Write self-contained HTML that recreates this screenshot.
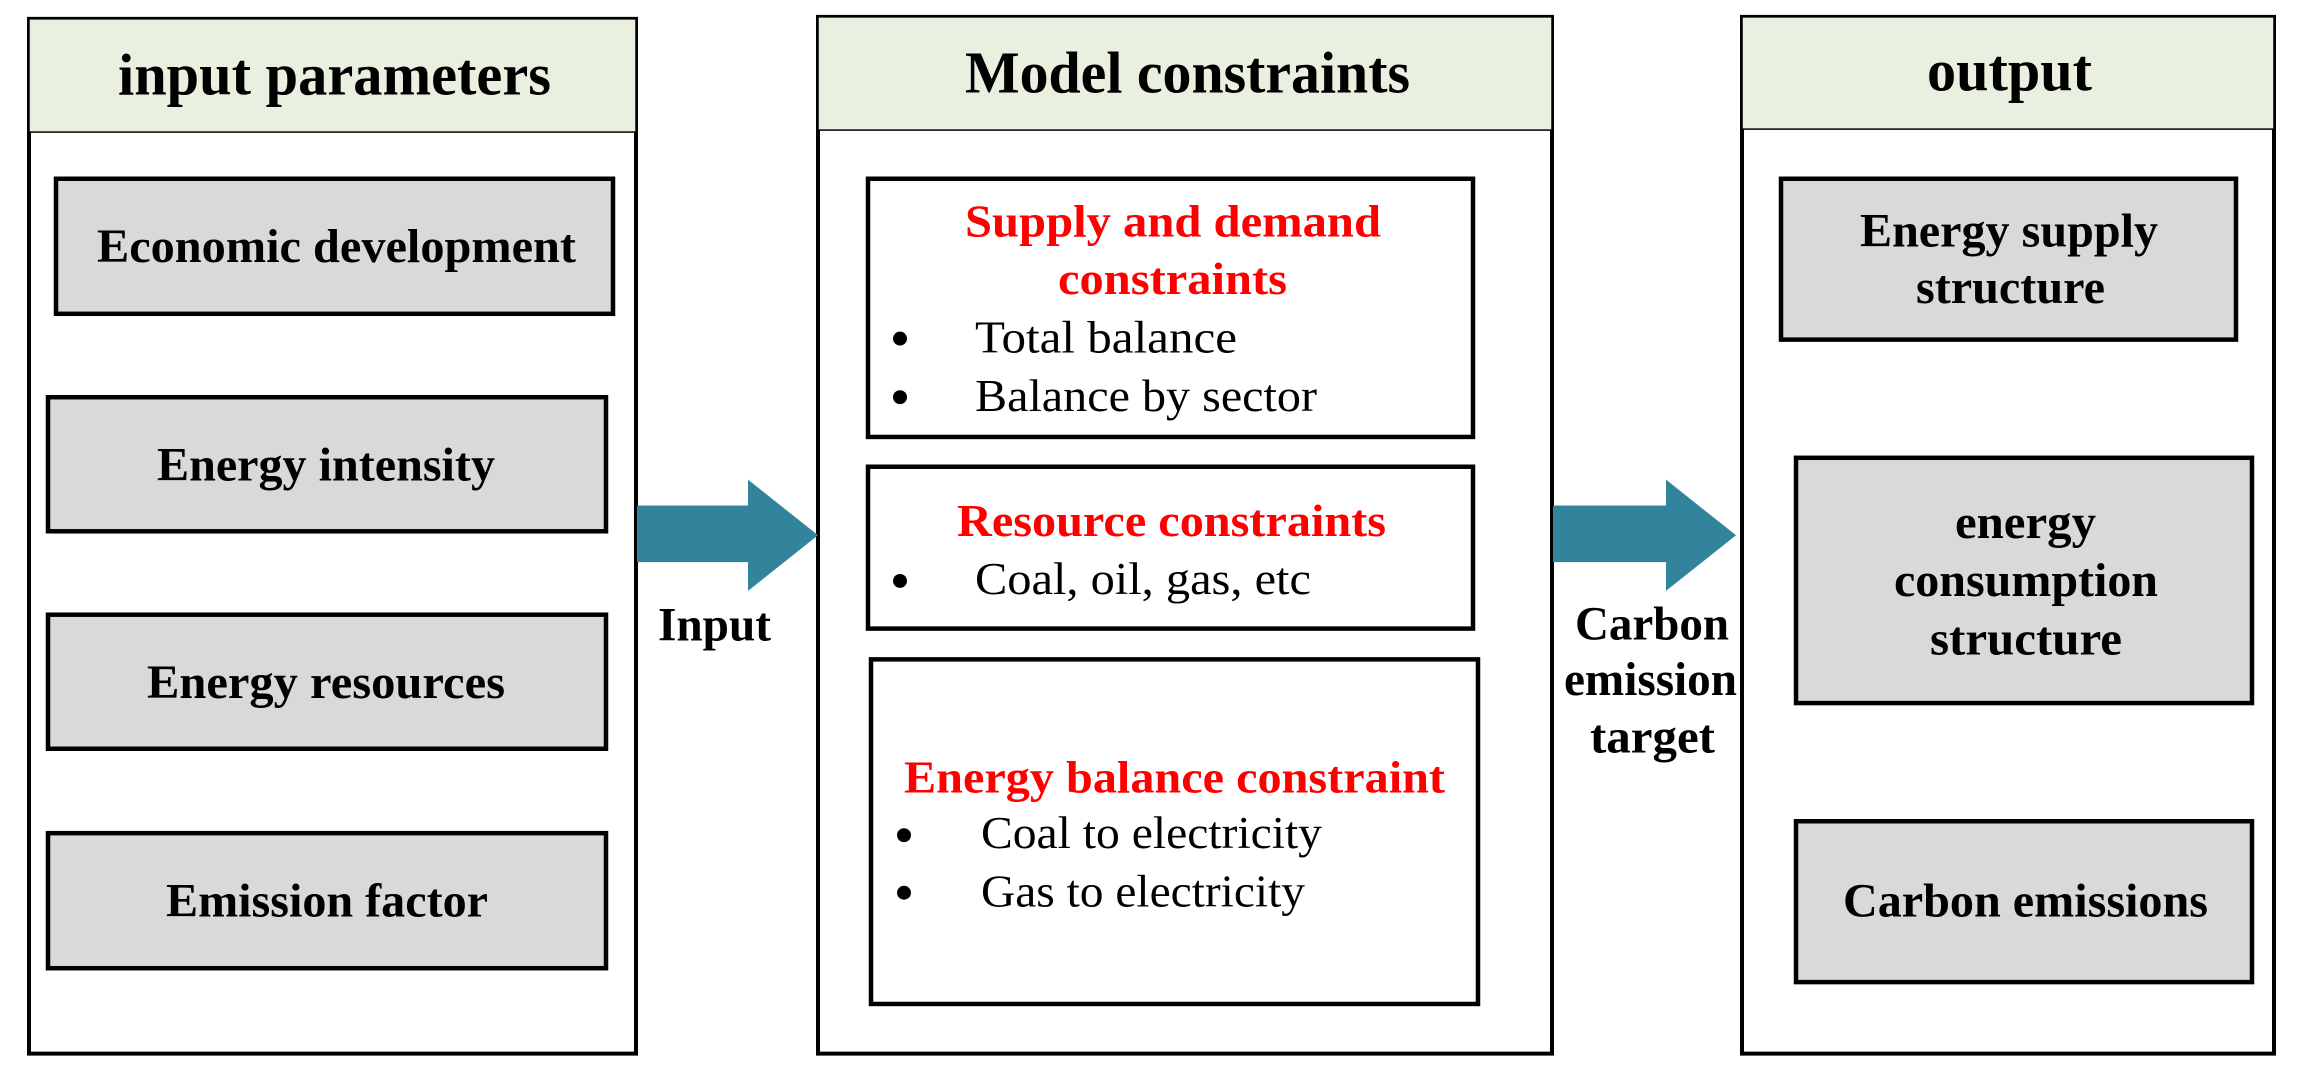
<!DOCTYPE html>
<html><head><meta charset="utf-8"><style>html,body{margin:0;padding:0;background:#fff;}svg{display:block;}</style></head>
<body>
<svg width="2303" height="1071" viewBox="0 0 2303 1078.5" preserveAspectRatio="none" xmlns="http://www.w3.org/2000/svg" font-family="Liberation Serif, serif">
<!-- panels -->
<g fill="#fff" stroke="#000" stroke-width="4">
<rect x="29" y="19" width="607" height="1042"/>
<rect x="818" y="17" width="734" height="1044"/>
<rect x="1742" y="17" width="532" height="1044"/>
</g>
<g fill="#EAF0E0" stroke="#000" stroke-width="1.5">
<rect x="29" y="19" width="607" height="114"/>
<rect x="818" y="17" width="734" height="114"/>
<rect x="1742" y="17" width="532" height="113"/>
</g>
<!-- gray boxes -->
<g fill="#D9D9D9" stroke="#000" stroke-width="4.5">
<rect x="56" y="180" width="557" height="136"/>
<rect x="48" y="400" width="558" height="135"/>
<rect x="48" y="619" width="558" height="135"/>
<rect x="48" y="839" width="558" height="136"/>
<rect x="1781" y="180" width="455" height="162"/>
<rect x="1796" y="461" width="456" height="247"/>
<rect x="1796" y="827" width="456" height="162"/>
</g>
<g fill="#fff" stroke="#000" stroke-width="4.5">
<rect x="868" y="180" width="605" height="260"/>
<rect x="868" y="470" width="605" height="163"/>
<rect x="871" y="664" width="607" height="347"/>
</g>
<!-- arrows -->
<g fill="#31849B">
<polygon points="637,509 748,509 748,483 818,539 748,595 748,566 637,566"/>
<polygon points="1553,509 1666,509 1666,483 1736,539 1666,595 1666,566 1553,566"/>
</g>
<!-- titles -->
<g font-weight="bold" font-size="60" fill="#000" lengthAdjust="spacingAndGlyphs">
<text x="118" y="95" textLength="433" lengthAdjust="spacingAndGlyphs">input parameters</text>
<text x="965" y="93" textLength="445" lengthAdjust="spacingAndGlyphs">Model constraints</text>
<text x="1927" y="91" textLength="165" lengthAdjust="spacingAndGlyphs">output</text>
</g>
<g font-weight="bold" font-size="48" fill="#000">
<text x="97" y="264" textLength="479" lengthAdjust="spacingAndGlyphs">Economic development</text>
<text x="157" y="484" textLength="338" lengthAdjust="spacingAndGlyphs">Energy intensity</text>
<text x="147" y="703" textLength="358" lengthAdjust="spacingAndGlyphs">Energy resources</text>
<text x="166" y="923" textLength="322" lengthAdjust="spacingAndGlyphs">Emission factor</text>
<text x="658" y="645" textLength="113" lengthAdjust="spacingAndGlyphs">Input</text>
<text x="1575" y="644" textLength="154" lengthAdjust="spacingAndGlyphs">Carbon</text>
<text x="1564" y="700" textLength="173" lengthAdjust="spacingAndGlyphs">emission</text>
<text x="1590" y="758" textLength="125" lengthAdjust="spacingAndGlyphs">target</text>
<text x="1860" y="248" textLength="298" lengthAdjust="spacingAndGlyphs">Energy supply</text>
<text x="1916" y="305" textLength="189" lengthAdjust="spacingAndGlyphs">structure</text>
<text x="1955" y="542" textLength="141" lengthAdjust="spacingAndGlyphs">energy</text>
<text x="1894" y="600" textLength="264" lengthAdjust="spacingAndGlyphs">consumption</text>
<text x="1930" y="659" textLength="192" lengthAdjust="spacingAndGlyphs">structure</text>
<text x="1843" y="923" textLength="365" lengthAdjust="spacingAndGlyphs">Carbon emissions</text>
</g>
<g font-weight="bold" font-size="46" fill="#FF0000">
<text x="965" y="238" textLength="416" lengthAdjust="spacingAndGlyphs">Supply and demand</text>
<text x="1058" y="296" textLength="229" lengthAdjust="spacingAndGlyphs">constraints</text>
<text x="957" y="540" textLength="429" lengthAdjust="spacingAndGlyphs">Resource constraints</text>
<text x="904" y="798" textLength="541" lengthAdjust="spacingAndGlyphs">Energy balance constraint</text>
</g>
<g font-size="46" fill="#000">
<text x="975" y="355" textLength="262" lengthAdjust="spacingAndGlyphs">Total balance</text>
<text x="975" y="414" textLength="342" lengthAdjust="spacingAndGlyphs">Balance by sector</text>
<text x="975" y="598" textLength="336" lengthAdjust="spacingAndGlyphs">Coal, oil, gas, etc</text>
<text x="981" y="854" textLength="341" lengthAdjust="spacingAndGlyphs">Coal to electricity</text>
<text x="981" y="913" textLength="324" lengthAdjust="spacingAndGlyphs">Gas to electricity</text>
</g>
<g fill="#000">
<circle cx="900" cy="341" r="7"/>
<circle cx="900" cy="400" r="7"/>
<circle cx="900" cy="585" r="7"/>
<circle cx="904" cy="841" r="7"/>
<circle cx="904" cy="899" r="7"/>
</g>
</svg>
</body></html>
